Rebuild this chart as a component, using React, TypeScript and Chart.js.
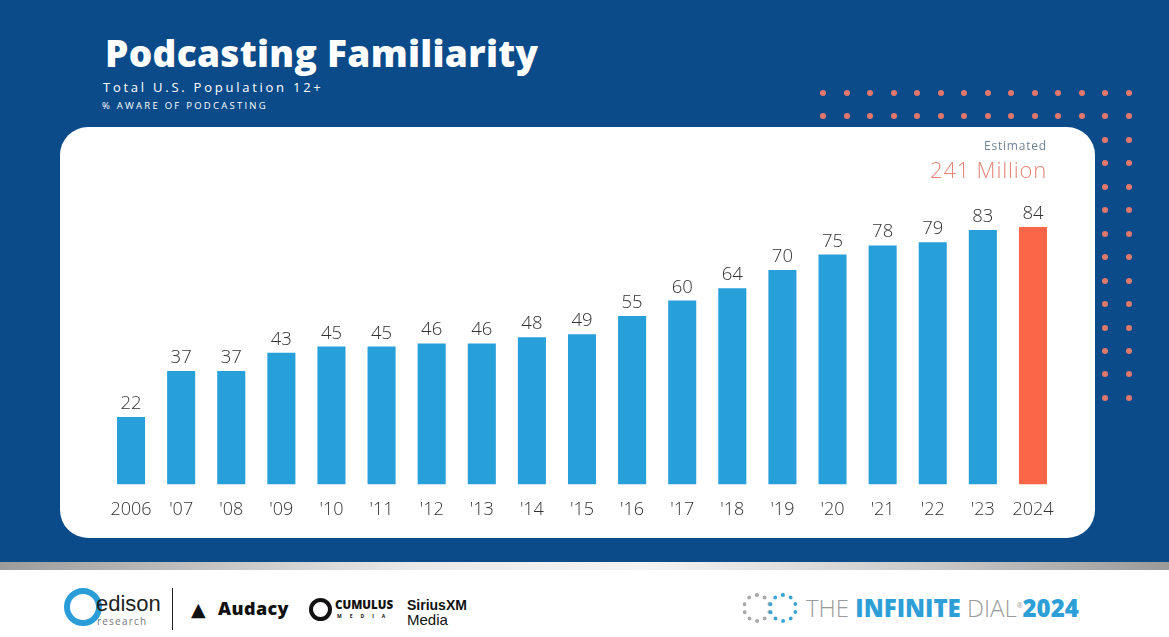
import React, { useEffect, useRef } from "react";
import { Chart, registerables } from "chart.js";

Chart.register(...registerables);

const categories = ["2006", "'07", "'08", "'09", "'10", "'11", "'12", "'13", "'14", "'15", "'16", "'17", "'18", "'19", "'20", "'21", "'22", "'23", "2024"];
const awareValues = [22, 37, 37, 43, 45, 45, 46, 46, 48, 49, 55, 60, 64, 70, 75, 78, 79, 83, 84];
const barColors = [
  "#279fd9", "#279fd9", "#279fd9", "#279fd9", "#279fd9", "#279fd9", "#279fd9", "#279fd9", "#279fd9", "#279fd9",
  "#279fd9", "#279fd9", "#279fd9", "#279fd9", "#279fd9", "#279fd9", "#279fd9", "#279fd9", "#fb6649",
];

const BLUE_BG = "#0b4b89";
const FONT = '"Open Sans", "DejaVu Sans", sans-serif';

const valueLabels = {
  id: "valueLabels",
  afterDatasetsDraw(chart: any) {
    const ctx = chart.ctx;
    const meta = chart.getDatasetMeta(0);
    ctx.save();
    ctx.font = `300 18.5px ${FONT}`;
    ctx.fillStyle = "#333333";
    ctx.textAlign = "center";
    ctx.textBaseline = "alphabetic";
    meta.data.forEach((bar: any, i: number) => {
      ctx.fillText(String(awareValues[i]), bar.x, bar.y - 8);
    });
    ctx.restore();
  },
};

function Dots() {
  const dots: React.ReactNode[] = [];
  const xs = Array.from({ length: 14 }, (_, i) => 823 + i * 23.5);
  for (let r = 0; r < 14; r++) {
    const y = 93 + r * 23.45;
    const cols = r < 2 ? xs : xs.slice(12);
    cols.forEach((x, c) => {
      dots.push(
        <div
          key={`${r}-${c}`}
          style={{
            position: "absolute",
            left: x - 3,
            top: y - 3,
            width: 6,
            height: 6,
            borderRadius: "50%",
            background: "#e2776c",
          }}
        />
      );
    });
  }
  return <>{dots}</>;
}

export default function App() {
  const canvasRef = useRef<HTMLCanvasElement | null>(null);

  useEffect(() => {
    document.body.style.margin = "0";
    const canvas = canvasRef.current;
    if (!canvas) return;
    const chart = new Chart(canvas, {
      type: "bar",
      data: {
        labels: categories,
        datasets: [
          {
            data: awareValues,
            backgroundColor: barColors,
            borderWidth: 0,
            categoryPercentage: 1,
            barPercentage: 0.56,
          },
        ],
      },
      options: {
        animation: false,
        responsive: false,
        maintainAspectRatio: false,
        layout: { padding: { left: 46, right: 37, top: 51, bottom: 2 } },
        plugins: {
          legend: { display: false },
          tooltip: { enabled: false },
          title: { display: false },
        },
        scales: {
          x: {
            grid: { display: false, drawTicks: false },
            border: { display: false },
            ticks: {
              color: "#333333",
              font: { family: FONT, size: 18, weight: 300 },
              padding: 15,
              maxRotation: 0,
              autoSkip: false,
            },
          },
          y: {
            display: false,
            min: 0,
            max: 100,
          },
        },
      },
      plugins: [valueLabels],
    });
    return () => chart.destroy();
  }, []);

  return (
    <div
      style={{
        position: "fixed",
        left: 0,
        top: 0,
        width: 1169,
        height: 637,
        background: "#ffffff",
        overflow: "hidden",
        fontFamily: FONT,
      }}
    >
      <div style={{ position: "absolute", left: 0, top: 0, width: 1169, height: 562, background: BLUE_BG }} />
      <div
        style={{
          position: "absolute",
          left: 0,
          top: 562,
          width: 1169,
          height: 8,
          background: "linear-gradient(to right, #9c9c9c 0%, #e8e8e8 35%, #f4f4f4 55%, #c8c8c8 80%, #9a9a9a 100%)",
        }}
      />
      <div
        style={{
          position: "absolute",
          left: 105,
          top: 34,
          fontSize: 37,
          lineHeight: "37px",
          fontWeight: 800,
          letterSpacing: 0.3,
          color: "#ffffff",
          whiteSpace: "nowrap",
        }}
      >
        Podcasting Familiarity
      </div>
      <div
        style={{
          position: "absolute",
          left: 103,
          top: 80.5,
          fontSize: 13,
          lineHeight: "13px",
          letterSpacing: 2.75,
          color: "#ffffff",
          whiteSpace: "nowrap",
        }}
      >
        Total U.S. Population 12+
      </div>
      <div
        style={{
          position: "absolute",
          left: 102,
          top: 101,
          fontSize: 9.5,
          lineHeight: "9.5px",
          letterSpacing: 2.25,
          color: "#ffffff",
          whiteSpace: "nowrap",
        }}
      >
        % AWARE OF PODCASTING
      </div>
      <Dots />
      <div
        style={{
          position: "absolute",
          left: 60,
          top: 127,
          width: 1035,
          height: 411,
          background: "#ffffff",
          borderRadius: 28,
        }}
      />
      <canvas
        ref={canvasRef}
        width={1035}
        height={411}
        style={{ position: "absolute", left: 60, top: 127, width: 1035, height: 411 }}
      />
      <div
        style={{
          position: "absolute",
          right: 1169 - 1047,
          top: 140,
          fontSize: 12,
          lineHeight: "12px",
          letterSpacing: 0.8,
          color: "#6f8396",
          whiteSpace: "nowrap",
        }}
      >
        Estimated
      </div>
      <div
        style={{
          position: "absolute",
          right: 1169 - 1047,
          top: 158,
          fontSize: 22,
          lineHeight: "22px",
          fontWeight: 300,
          letterSpacing: 0.8,
          color: "#e4877a",
          whiteSpace: "nowrap",
        }}
      >
        241 Million
      </div>

      {/* footer logos */}
      <div
        style={{
          position: "absolute",
          left: 64,
          top: 588,
          width: 26,
          height: 26,
          borderRadius: "50%",
          border: "6px solid #2a9dd8",
        }}
      />
      <div style={{ position: "absolute", left: 96, top: 593, fontSize: 22, lineHeight: "22px", color: "#1f1f1f", fontFamily: '"Liberation Sans", sans-serif' }}>
        edison
      </div>
      <div style={{ position: "absolute", left: 97, top: 616, fontSize: 10, lineHeight: "10px", color: "#777777", letterSpacing: 1.2 }}>
        research
      </div>
      <div style={{ position: "absolute", left: 172, top: 588, width: 1, height: 42, background: "#222222" }} />
      <div style={{ position: "absolute", left: 191, top: 600, fontSize: 19, lineHeight: "19px", fontWeight: 900, color: "#111111" }}>▲</div>
      <div style={{ position: "absolute", left: 218, top: 599, fontSize: 18, lineHeight: "18px", fontWeight: 800, color: "#111111", letterSpacing: 0.4 }}>Audacy</div>
      <div
        style={{
          position: "absolute",
          left: 309,
          top: 598,
          width: 15,
          height: 15,
          borderRadius: "50%",
          border: "4px solid #111111",
        }}
      />
      <div style={{ position: "absolute", left: 335, top: 599, fontSize: 11.5, lineHeight: "11.5px", fontWeight: 900, color: "#111111" }}>CUMULUS</div>
      <div style={{ position: "absolute", left: 337, top: 614, fontSize: 5, lineHeight: "5px", fontWeight: 700, color: "#111111", letterSpacing: 8 }}>MEDIA</div>
      <div style={{ position: "absolute", left: 407, top: 598, fontSize: 14, lineHeight: "14px", fontWeight: 900, color: "#111111", fontFamily: '"Liberation Sans", sans-serif' }}>SiriusXM</div>
      <div style={{ position: "absolute", left: 407, top: 612, fontSize: 15, lineHeight: "15px", color: "#111111", fontFamily: '"Liberation Sans Narrow", "Liberation Sans", sans-serif' }}>Media</div>

      <div style={{ position: "absolute", left: 742, top: 593, width: 22, height: 22, borderRadius: "50%", border: "4px dotted #a9a9a9" }} />
      <div style={{ position: "absolute", left: 768, top: 593, width: 22, height: 22, borderRadius: "50%", border: "4px dotted #3aa4d8" }} />
      <div style={{ position: "absolute", left: 806, top: 594, fontSize: 24, lineHeight: "24px", whiteSpace: "nowrap" }}>
        <span style={{ color: "#9a9a9a", fontWeight: 300 }}>THE </span>
        <span style={{ color: "#2e9ed6", fontWeight: 800 }}>INFINITE </span>
        <span style={{ color: "#9a9a9a", fontWeight: 300 }}>DIAL</span>
        <sup style={{ color: "#9a9a9a", fontSize: 7 }}>®</sup>
        <span style={{ color: "#2e9ed6", fontWeight: 800 }}>2024</span>
      </div>
    </div>
  );
}
